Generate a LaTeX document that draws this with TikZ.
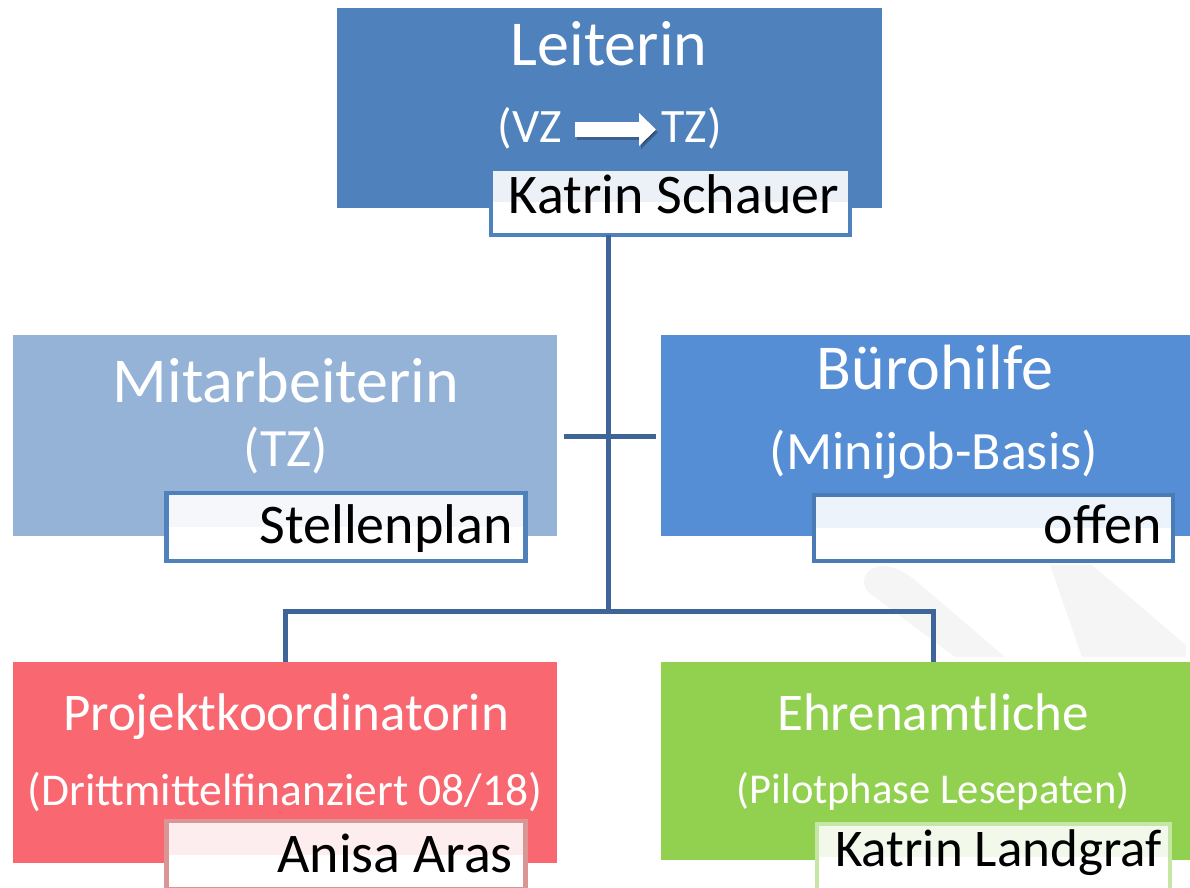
\documentclass[tikz,border=0pt]{standalone}
\usepackage{fontspec}
\setmainfont{Carlito}
\usetikzlibrary{calc}
\usetikzlibrary{positioning}
\usetikzlibrary{arrows.meta}
\definecolor{leitblau}{HTML}{4F81BD}
\definecolor{hellblau}{HTML}{95B3D7}
\definecolor{mittelblau}{HTML}{558ED5}
\definecolor{rosarot}{HTML}{F96871}
\definecolor{hellgruen}{HTML}{92D050}
\definecolor{linienblau}{HTML}{3E6598}
\definecolor{rosarand}{HTML}{D99694}
\definecolor{gruenrand}{HTML}{C5E6A4}
\tikzset{every node/.style={font=\rmfamily}}
\tikzset{
  stelle/.style={inner sep=0, outer sep=0, minimum width=#1},
  namefeld/.style={draw=#1, line width=4.5pt, fill=white, inner sep=0, outer sep=0,
    minimum width=359, minimum height=66},
  tint/.style={path picture={\fill[#1] (path picture bounding box.north west) rectangle (path picture bounding box.east);}},
  titel/.style={text=white, inner sep=0, anchor=base, font=\fontsize{64}{72}\selectfont},
  untertitel/.style={text=white, inner sep=0, anchor=base, font=\fontsize{54}{62}\selectfont},
  nametext/.style={text=black, inner sep=0, anchor=base east, font=\fontsize{56}{64}\selectfont},
  linie/.style={draw=linienblau, line width=5pt}
}

\begin{document}
\begin{tikzpicture}[x=1pt, y=-1pt]

\useasboundingbox (0,0) rectangle (1190,887);

% Wasserzeichen im Hintergrund
\fill[black!4] (868,572) .. controls (880,560) and (900,568) .. (915,580) -- (1005,657) -- (955,657) -- (872,595) .. controls (862,588) and (862,578) .. (868,572);
\fill[black!4] (1050,565) -- (1092,565) -- (1186,645) -- (1186,657) -- (1082,657) -- cycle;

% Kästen
\node[stelle=545, minimum height=200, fill=leitblau] (leiter) at (609.5,108) {};
\node[stelle=544, minimum height=201, fill=hellblau] (mitarb) at (285,435.5) {};
\node[stelle=529, minimum height=201, fill=mittelblau] (buero) at (925.5,435.5) {};
\node[stelle=544, minimum height=201, fill=rosarot] (projekt) at (285,762.5) {};
\node[stelle=529, minimum height=198, fill=hellgruen] (ehren) at (925.5,761) {};

% Linien
\coordinate (gabel) at (608,611);
\coordinate (kreuzL) at (564,436);
\coordinate (kreuzR) at (656,436);
\coordinate (ehrenO) at (933,662);
\coordinate (projektO) at (285,662);

% Namensfelder
\node[namefeld=leitblau, tint=leitblau!11] (schauer) at (670.5,202) {};
\node[namefeld=leitblau, tint=leitblau!6, minimum height=68] (stellen) at (346,527) {};
\node[namefeld=leitblau!95!black, tint=mittelblau!11, minimum height=66] (offen) at (993.5,528) {};
\node[namefeld=rosarand, tint=rosarot!12, minimum height=68] (aras) at (346,855) {};
\node[namefeld=gruenrand, tint=hellgruen!12, minimum width=353] (landgraf) at (993.5,857) {};

\draw[linie] (schauer.south -| gabel) -- (gabel);
\draw[linie] (kreuzL) -- (kreuzR);
\draw[linie] (gabel) -| (projektO);
\draw[linie] (gabel) -| (ehrenO);

% Texte
\node[titel] (leiterT) at (609,65) {Leiterin};
\node[untertitel, anchor=base east, font=\fontsize{48}{56}\selectfont] (vz) at (562,142) {(VZ};
\node[untertitel, anchor=base west, font=\fontsize{48}{56}\selectfont] (tz) at (661,142) {TZ)};
\coordinate (pfeilA) at (575,129.5);
\coordinate (pfeilB) at (656,129.5);
\draw[black, opacity=0.25, line width=15pt, -{Triangle[length=17pt, width=32pt]}] ($(pfeilA)+(2,3)$) -- ($(pfeilB)+(2,3)$);
\draw[white, line width=15pt, -{Triangle[length=17pt, width=32pt]}] (pfeilA) -- (pfeilB);

\node[titel] (mitarbT) at (286,402) {Mitarbeiterin};
\node[untertitel] (mitarbU) at (286,466) {(TZ)};

\node[titel] (bueroT) at (935,389) {Bürohilfe};
\node[untertitel] (bueroU) at (934,469) {(Minijob-Basis)};

\node[titel, font=\fontsize{53}{60}\selectfont] (projektT) at (286,730) {Projektkoordinatorin};
\node[untertitel, font=\fontsize{45.5}{52}\selectfont] (projektU) at (285,805) {(Drittmittelfinanziert 08/18)};

\node[titel, font=\fontsize{53}{60}\selectfont] (ehrenT) at (933,730) {Ehrenamtliche};
\node[untertitel, font=\fontsize{42.5}{50}\selectfont] (ehrenU) at (933,803) {(Pilotphase Lesepaten)};

\node[nametext, anchor=base] (schauerT) at (674,213) {Katrin Schauer};
\node[nametext] (stellenT) at (513,543) {Stellenplan};
\node[nametext] (offenT) at (1162,543) {offen};
\node[nametext] (arasT) at (513,872) {Anisa Aras};
\node[nametext, font=\fontsize{53}{60}\selectfont] (landgrafT) at (1162,866) {Katrin Landgraf};

\end{tikzpicture}
\end{document}
